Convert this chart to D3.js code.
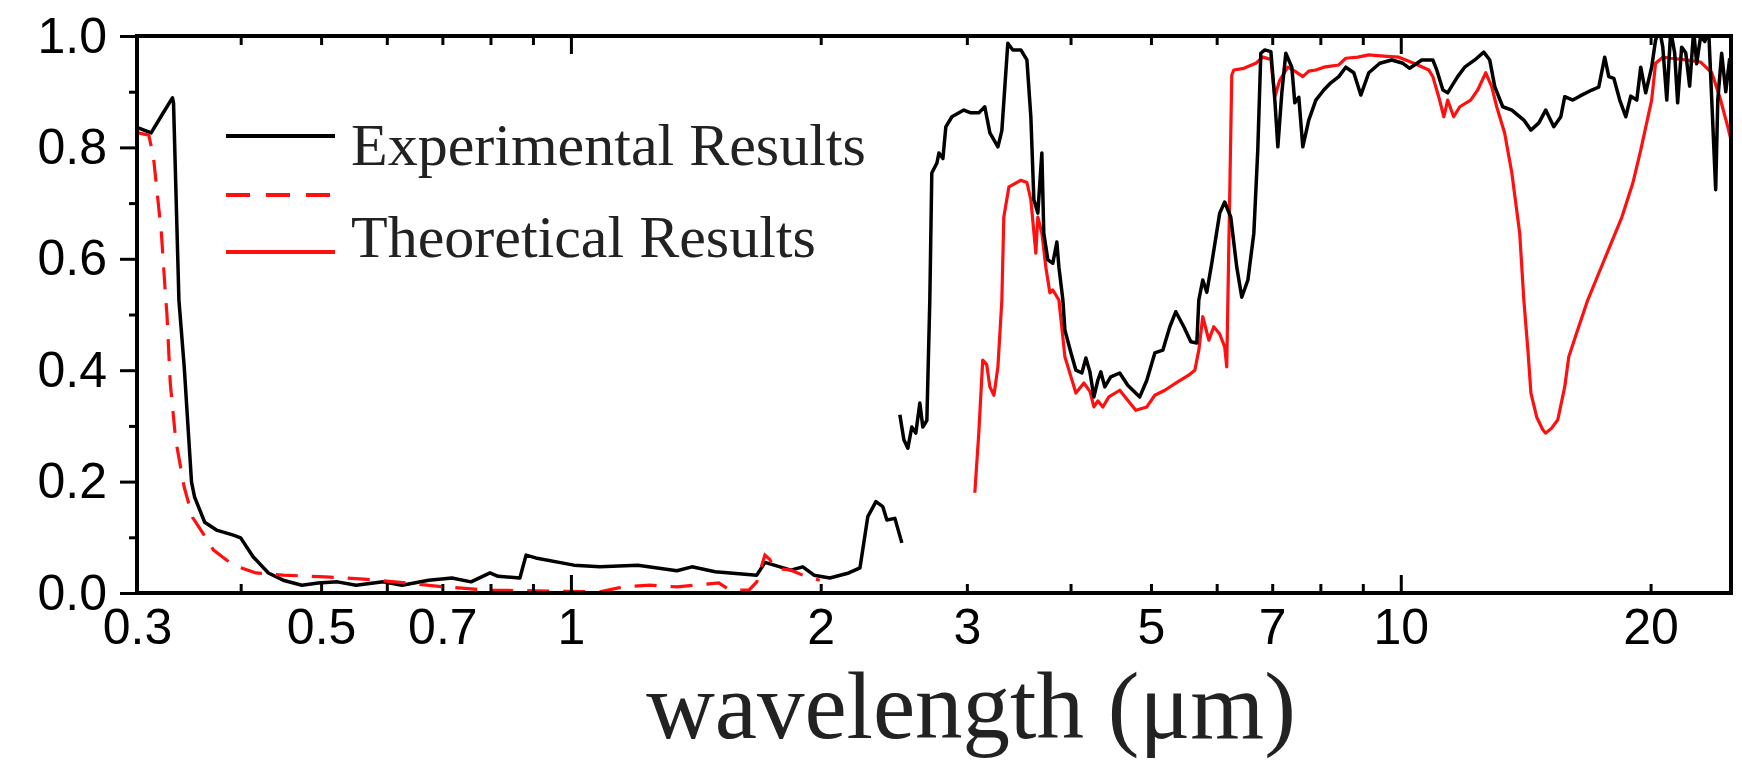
<!DOCTYPE html>
<html>
<head>
<meta charset="utf-8">
<script src="https://cdn.jsdelivr.net/npm/d3@7"></script>
<style>
  html, body { margin: 0; padding: 0; background: #fff; }
  svg { display: block; }
</style>
</head>
<body>
<svg id="chart" width="1742" height="764"></svg>
<script>
// ---------------- DATA ----------------
// Experimental results, UV-NIR segment (wavelength in µm, absorptance)
const expShortWl = [0.301,0.312,0.322,0.331,0.332,0.337,0.342,0.349,0.352,0.362,0.374,0.392,0.400,0.414,0.432,0.450,0.474,0.496,0.523,0.551,0.594,0.626,0.674,0.719,0.758,0.799,0.817,0.868,0.883,0.907,1.008,1.084,1.204,1.342,1.399,1.492,1.675,1.713,1.841,1.903,1.963,2.051,2.162,2.230,2.279,2.331,2.376,2.403,2.457,2.505];
const expShortAbs = [0.835,0.826,0.860,0.889,0.880,0.526,0.406,0.199,0.172,0.127,0.113,0.104,0.099,0.065,0.036,0.023,0.014,0.018,0.020,0.014,0.020,0.014,0.023,0.027,0.020,0.036,0.030,0.027,0.068,0.063,0.050,0.047,0.050,0.040,0.047,0.038,0.032,0.055,0.041,0.047,0.032,0.027,0.036,0.045,0.137,0.164,0.155,0.131,0.134,0.090];

// Experimental results, IR segment
const expLongWl = [2.491,2.519,2.547,2.575,2.604,2.633,2.655,2.685,2.707,2.722,2.761,2.776,2.807,2.830,2.878,2.975,3.033,3.101,3.153,3.198,3.270,3.306,3.361,3.408,3.485,3.544,3.583,3.613,3.653,3.694,3.714,3.756,3.808,3.851,3.873,3.916,3.938,4.005,4.060,4.128,4.174,4.221,4.268,4.315,4.351,4.399,4.472,4.585,4.688,4.847,4.943,5.054,5.167,5.269,5.357,5.477,5.585,5.679,5.710,5.773,5.838,5.919,6.051,6.135,6.239,6.344,6.433,6.543,6.652,6.725,6.782,6.857,6.974,7.051,7.110,7.189,7.269,7.391,7.453,7.536,7.620,7.747,7.901,8.077,8.236,8.420,8.585,8.778,8.951,9.151,9.435,9.753,10.06,10.25,10.60,10.93,11.05,11.24,11.39,11.52,11.71,11.94,12.28,12.59,12.80,12.98,13.27,13.61,14.07,14.35,14.67,14.95,15.29,15.59,15.76,16.12,16.43,16.99,17.32,17.61,17.81,18.06,18.36,18.67,18.93,19.25,19.46,19.73,20.06,20.28,20.51,20.69,20.92,21.15,21.38,21.56,21.80,22.05,22.29,22.54,22.73,22.98,23.24,23.50,23.70,23.96,24.10,24.36,24.64,24.91];
const expLongAbs = [0.320,0.275,0.260,0.298,0.287,0.341,0.298,0.310,0.526,0.754,0.772,0.790,0.780,0.837,0.855,0.867,0.862,0.862,0.873,0.826,0.801,0.830,0.987,0.975,0.975,0.957,0.855,0.706,0.682,0.790,0.646,0.598,0.592,0.630,0.585,0.526,0.472,0.431,0.400,0.395,0.422,0.397,0.352,0.382,0.397,0.370,0.388,0.395,0.373,0.352,0.382,0.431,0.436,0.478,0.505,0.478,0.451,0.449,0.526,0.562,0.540,0.592,0.682,0.702,0.675,0.585,0.531,0.562,0.646,0.795,0.969,0.975,0.972,0.885,0.801,0.898,0.969,0.944,0.880,0.890,0.801,0.849,0.885,0.903,0.916,0.927,0.944,0.934,0.894,0.934,0.951,0.957,0.951,0.942,0.957,0.957,0.939,0.903,0.898,0.910,0.927,0.944,0.957,0.971,0.957,0.909,0.873,0.867,0.849,0.831,0.844,0.867,0.837,0.855,0.891,0.885,0.892,0.903,0.908,0.962,0.927,0.924,0.885,0.855,0.892,0.885,0.944,0.898,0.944,0.993,1.01,0.98,0.885,1.01,0.97,0.880,0.98,0.97,0.91,1.01,0.95,1.0,0.99,1.01,0.885,0.724,0.885,0.969,0.90,0.96];

// Theoretical results, UV-NIR segment (dashed)
const theoShortWl = [0.301,0.310,0.314,0.321,0.325,0.326,0.329,0.334,0.342,0.350,0.360,0.371,0.392,0.417,0.450,0.506,0.563,0.633,0.703,0.799,0.907,1.084,1.155,1.245,1.342,1.507,1.555,1.639,1.675,1.713,1.737,1.756,1.841,1.924,1.995];
const theoShortAbs = [0.826,0.822,0.783,0.646,0.526,0.500,0.377,0.275,0.190,0.136,0.108,0.077,0.050,0.036,0.032,0.029,0.025,0.018,0.011,0.005,0.004,0.002,0.011,0.014,0.011,0.018,0.005,0.005,0.020,0.068,0.060,0.045,0.041,0.029,0.023];

// Theoretical results, IR segment (solid)
const theoLongWl = [3.067,3.101,3.135,3.170,3.198,3.234,3.270,3.306,3.324,3.371,3.485,3.544,3.583,3.633,3.653,3.694,3.735,3.777,3.808,3.873,3.938,4.005,4.060,4.151,4.221,4.268,4.315,4.375,4.449,4.585,4.688,4.794,4.943,5.054,5.196,5.385,5.552,5.647,5.710,5.773,5.871,5.952,6.051,6.135,6.170,6.257,6.292,6.470,6.689,6.820,6.974,7.051,7.149,7.310,7.453,7.620,7.747,7.901,8.077,8.236,8.420,8.585,8.877,9.151,9.540,9.946,10.37,10.81,10.93,11.11,11.27,11.39,11.58,11.78,12.14,12.38,12.66,12.87,13.05,13.34,13.61,13.91,14.07,14.23,14.35,14.58,14.83,14.95,15.20,15.46,15.76,15.94,16.29,16.80,17.52,18.47,19.04,19.46,20.06,20.28,20.69,21.15,22.05,22.98,23.70,24.23,24.78,25.12];
const theoLongAbs = [0.180,0.287,0.418,0.410,0.370,0.355,0.406,0.526,0.675,0.729,0.741,0.737,0.706,0.610,0.675,0.646,0.585,0.539,0.544,0.526,0.424,0.388,0.359,0.377,0.362,0.334,0.345,0.334,0.352,0.364,0.346,0.328,0.334,0.355,0.364,0.379,0.391,0.400,0.436,0.496,0.454,0.478,0.465,0.442,0.406,0.930,0.939,0.942,0.951,0.962,0.958,0.891,0.921,0.944,0.937,0.927,0.937,0.939,0.944,0.946,0.948,0.960,0.962,0.966,0.964,0.962,0.951,0.939,0.927,0.891,0.855,0.885,0.855,0.873,0.885,0.903,0.934,0.909,0.873,0.826,0.754,0.646,0.526,0.436,0.359,0.316,0.293,0.287,0.296,0.311,0.370,0.424,0.467,0.526,0.592,0.675,0.736,0.795,0.885,0.951,0.962,0.960,0.957,0.953,0.934,0.891,0.837,0.801];

// Axis ticks
const xLabelTicks = [0.3, 0.5, 0.7, 1, 2, 3, 5, 7, 10, 20];
const xMinorTicks = [0.4, 0.5, 0.6, 0.7, 0.8, 0.9, 2, 3, 4, 5, 6, 7, 8, 9, 20];
const xMajorTicks = [1, 10];
const yMajorTicks = [0, 0.2, 0.4, 0.6, 0.8, 1.0];
const yMinorTicks = [0.1, 0.3, 0.5, 0.7, 0.9];

const legendLabels = ["Experimental Results", "Theoretical Results"];
const axisTitle = "wavelength (\u03bcm)";

// ---------------- LAYOUT ----------------
const pL = 137, pR = 1731, pT = 36, pB = 593;
const svg = d3.select("#chart");

const x = d3.scaleLog().domain([0.3, 25]).range([pL, pR]);
const y = d3.scaleLinear().domain([0, 1]).range([pB, pT]);

const zip = (a, b) => a.map((v, i) => [v, b[i]]);
const line = d3.line().x(d => x(d[0])).y(d => y(d[1]));

svg.append("defs").append("clipPath").attr("id", "plotclip")
  .append("rect").attr("x", pL).attr("y", pT)
  .attr("width", pR - pL).attr("height", pB - pT);

const plot = svg.append("g").attr("clip-path", "url(#plotclip)");

// theoretical solid (IR)
plot.append("path").datum(zip(theoLongWl, theoLongAbs))
  .attr("d", line).attr("fill", "none")
  .attr("stroke", "#ff1010").attr("stroke-width", 3.2).attr("stroke-linejoin", "round");

// experimental
[zip(expShortWl, expShortAbs), zip(expLongWl, expLongAbs)].forEach(seg => {
  plot.append("path").datum(seg)
    .attr("d", line).attr("fill", "none")
    .attr("stroke", "#000").attr("stroke-width", 3.5).attr("stroke-linejoin", "round");
});

// theoretical dashed (UV-NIR)
plot.append("path").datum(zip(theoShortWl, theoShortAbs))
  .attr("d", line).attr("fill", "none")
  .attr("stroke", "#ff1010").attr("stroke-width", 3.2)
  .attr("stroke-dasharray", "22,14");

// ---------------- AXES ----------------
const fontSans = "'Liberation Sans', Arial, sans-serif";
const fontSerif = "'Liberation Serif', 'Times New Roman', serif";

function styleAxis(g) {
  g.select(".domain").remove();
  g.selectAll("line").attr("stroke", "#000").attr("stroke-width", 3);
  g.selectAll("text").attr("font-family", fontSans).attr("font-size", 50).attr("fill", "#000");
}

// bottom minor / major ticks (inward)
svg.append("g").attr("transform", `translate(0,${pB})`)
  .call(d3.axisBottom(x).tickValues(xMinorTicks).tickSize(-9).tickFormat(""))
  .call(styleAxis);
svg.append("g").attr("transform", `translate(0,${pB})`)
  .call(d3.axisBottom(x).tickValues(xMajorTicks).tickSize(-18).tickFormat(""))
  .call(styleAxis);
// bottom labels
svg.append("g").attr("transform", `translate(0,${pB})`)
  .call(d3.axisBottom(x).tickValues(xLabelTicks).tickSize(0).tickPadding(15)
        .tickFormat(d => String(d)))
  .call(styleAxis);

// top mirrored ticks (inward)
svg.append("g").attr("transform", `translate(0,${pT})`)
  .call(d3.axisTop(x).tickValues(xMinorTicks).tickSize(-9).tickFormat(""))
  .call(styleAxis);
svg.append("g").attr("transform", `translate(0,${pT})`)
  .call(d3.axisTop(x).tickValues(xMajorTicks).tickSize(-18).tickFormat(""))
  .call(styleAxis);

// left ticks (outward)
svg.append("g").attr("transform", `translate(${pL},0)`)
  .call(d3.axisLeft(y).tickValues(yMinorTicks).tickSize(8).tickFormat(""))
  .call(styleAxis);
svg.append("g").attr("transform", `translate(${pL},0)`)
  .call(d3.axisLeft(y).tickValues(yMajorTicks).tickSize(17).tickPadding(13)
        .tickFormat(d3.format(".1f")))
  .call(styleAxis);

// frame
svg.append("rect").attr("x", pL).attr("y", pT)
  .attr("width", pR - pL).attr("height", pB - pT)
  .attr("fill", "none").attr("stroke", "#000").attr("stroke-width", 4);

// axis title
svg.append("text").attr("x", 971).attr("y", 738)
  .attr("text-anchor", "middle")
  .attr("font-family", fontSerif).attr("font-size", 95).attr("fill", "#222")
  .text(axisTitle);

// ---------------- LEGEND ----------------
const lg = svg.append("g");
lg.append("line").attr("x1", 226).attr("x2", 335).attr("y1", 136).attr("y2", 136)
  .attr("stroke", "#000").attr("stroke-width", 4);
lg.append("line").attr("x1", 226).attr("x2", 335).attr("y1", 195).attr("y2", 195)
  .attr("stroke", "#ff1010").attr("stroke-width", 4).attr("stroke-dasharray", "24,16");
lg.append("line").attr("x1", 226).attr("x2", 335).attr("y1", 252).attr("y2", 252)
  .attr("stroke", "#ff1010").attr("stroke-width", 4);
lg.append("text").attr("x", 351).attr("y", 165)
  .attr("font-family", fontSerif).attr("font-size", 60).attr("fill", "#222")
  .text(legendLabels[0]);
lg.append("text").attr("x", 351).attr("y", 257)
  .attr("font-family", fontSerif).attr("font-size", 60).attr("fill", "#222")
  .text(legendLabels[1]);
</script>
</body>
</html>
